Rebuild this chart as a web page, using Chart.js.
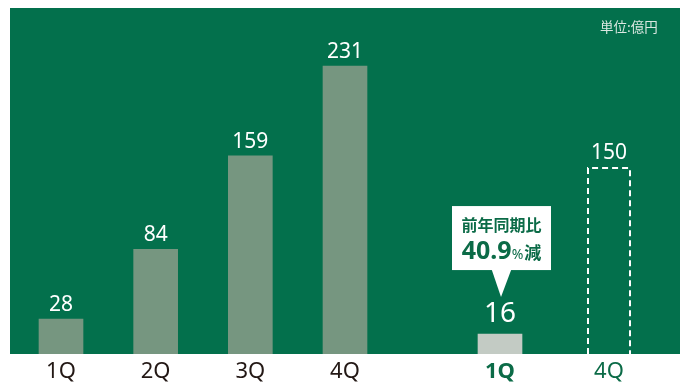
<!DOCTYPE html>
<html lang="ja">
<head>
<meta charset="utf-8">
<script src="https://cdn.jsdelivr.net/npm/chart.js@4.4.1/dist/chart.umd.min.js"></script>
<style>
html, body { margin: 0; padding: 0; background: #fff; }
#wrap { position: relative; width: 680px; height: 383px; overflow: hidden; }
#panel { position: absolute; left: 10px; top: 8px; width: 670px; height: 346px; background: #03704c; }
.box { position: absolute; top: 0; height: 390px; }
#unit { position: absolute; left: 600px; top: 16px; font: 13.5px "Noto Sans CJK JP", sans-serif; color: #dce8e2; }
</style>
</head>
<body>
<div id="wrap">
  <div id="panel"></div>
  <div class="box" style="left:0;width:400px"><canvas id="prevChart"></canvas></div>
  <div class="box" style="left:400px;width:280px"><canvas id="curChart"></canvas></div>
  <div id="unit">単位:億円</div>
</div>
<script>
// previous fiscal year, cumulative by quarter (億円)
var prevLabels = ['1Q', '2Q', '3Q', '4Q'];
var prevValues = [28, 84, 159, 231];
// current fiscal year: 1Q actual, 4Q full-year forecast
var curLabels = ['1Q', '4Q'];
var curValues = [16, 150];
var curIsForecast = [false, true];
var yMax = 260;
var calloutTitle = '前年同期比';
var calloutRate = '40.9';

var numFont = '"Noto Sans", "Noto Sans CJK JP", sans-serif';
var jpFont = '"Noto Sans CJK JP", sans-serif';
var deepGreen = '#0b6b47';

Chart.defaults.font.family = numFont;

var valueLabels = {
  id: 'valueLabels',
  afterDatasetsDraw: function (chart, args, opts) {
    var ctx = chart.ctx;
    var meta = chart.getDatasetMeta(0);
    var values = chart.data.datasets[0].data;
    ctx.save();
    ctx.fillStyle = '#fff';
    ctx.textAlign = 'center';
    ctx.textBaseline = 'alphabetic';
    meta.data.forEach(function (bar, i) {
      var size = opts.sizes ? opts.sizes[i] : 21;
      var gap = opts.gaps ? opts.gaps[i] : 8;
      ctx.font = '400 ' + size + 'px ' + numFont;
      ctx.fillText(values[i], bar.x, bar.y - gap);
    });
    ctx.restore();
  }
};

var forecastAndCallout = {
  id: 'forecastAndCallout',
  afterDatasetsDraw: function (chart) {
    var ctx = chart.ctx;
    var meta = chart.getDatasetMeta(0);
    ctx.save();
    // dashed outline for forecast bars
    meta.data.forEach(function (bar, i) {
      if (!curIsForecast[i]) return;
      var l = bar.x - bar.width / 2 + 1;
      var r = bar.x + bar.width / 2 - 1;
      ctx.strokeStyle = '#fff';
      ctx.lineWidth = 2;
      ctx.setLineDash([6, 4]);
      ctx.beginPath();
      ctx.moveTo(l, bar.base);
      ctx.lineTo(l, bar.y + 1);
      ctx.lineTo(r, bar.y + 1);
      ctx.lineTo(r, bar.base);
      ctx.stroke();
    });
    ctx.setLineDash([]);

    // callout above the 1Q actual bar
    var b = meta.data[0];
    var cx = b.x + 1.5;
    var top = b.y - 128, bottom = b.y - 64;
    ctx.fillStyle = '#fff';
    ctx.fillRect(cx - 49.5, top, 99, bottom - top);
    ctx.beginPath();
    ctx.moveTo(cx - 10, bottom - 1);
    ctx.lineTo(cx + 10, bottom - 1);
    ctx.lineTo(cx - 0.5, b.y - 37);
    ctx.closePath();
    ctx.fill();

    ctx.fillStyle = deepGreen;
    ctx.textBaseline = 'alphabetic';
    ctx.textAlign = 'center';
    ctx.font = 'bold 16px ' + jpFont;
    ctx.fillText(calloutTitle, cx, b.y - 103);

    ctx.textAlign = 'left';
    var f1 = 'bold 25px ' + numFont, f2 = '14px ' + numFont, f3 = 'bold 17px ' + jpFont;
    ctx.font = f1; var w1 = ctx.measureText(calloutRate).width;
    ctx.font = f2; var w2 = ctx.measureText('%').width;
    ctx.font = f3; var w3 = ctx.measureText('減').width;
    var x = cx - (w1 + w2 + w3 + 1) / 2;
    var base = b.y - 75;
    ctx.font = f1; ctx.fillText(calloutRate, x, base); x += w1;
    ctx.font = f2; ctx.fillText('%', x, base); x += w2 + 1;
    ctx.font = f3; ctx.fillText('減', x, base);
    ctx.restore();
  }
};

function baseOptions(padLeft, padRight, tickColor, tickWeight) {
  return {
    responsive: true,
    maintainAspectRatio: false,
    animation: false,
    layout: { padding: { top: 30, left: padLeft, right: padRight, bottom: 0 } },
    plugins: { legend: { display: false }, tooltip: { enabled: false } },
    scales: {
      x: {
        grid: { display: false, drawTicks: false },
        border: { display: false },
        ticks: {
          color: tickColor,
          padding: 6,
          font: function (c) { return { size: 22, lineHeight: 24 / 22, weight: tickWeight(c.index) }; }
        }
      },
      y: { display: false, min: 0, max: yMax }
    }
  };
}

var prevOpts = baseOptions(13.67, 7.67, '#231815', function () { return 'normal'; });
prevOpts.plugins.valueLabels = {};
new Chart(document.getElementById('prevChart'), {
  type: 'bar',
  data: {
    labels: prevLabels,
    datasets: [{ data: prevValues, backgroundColor: '#769680', borderWidth: 0, barThickness: 44 }]
  },
  options: prevOpts,
  plugins: [valueLabels]
});

var curOpts = baseOptions(45.5, 16.5, deepGreen, function (i) { return i === 0 ? 'bold' : 'normal'; });
curOpts.plugins.valueLabels = { sizes: [28, 21], gaps: [12, 8] };
new Chart(document.getElementById('curChart'), {
  type: 'bar',
  data: {
    labels: curLabels,
    datasets: [{
      data: curValues,
      backgroundColor: curIsForecast.map(function (f) { return f ? 'rgba(0,0,0,0)' : '#c3cbc4'; }),
      borderWidth: 0,
      barThickness: 44
    }]
  },
  options: curOpts,
  plugins: [valueLabels, forecastAndCallout]
});
</script>
</body>
</html>
